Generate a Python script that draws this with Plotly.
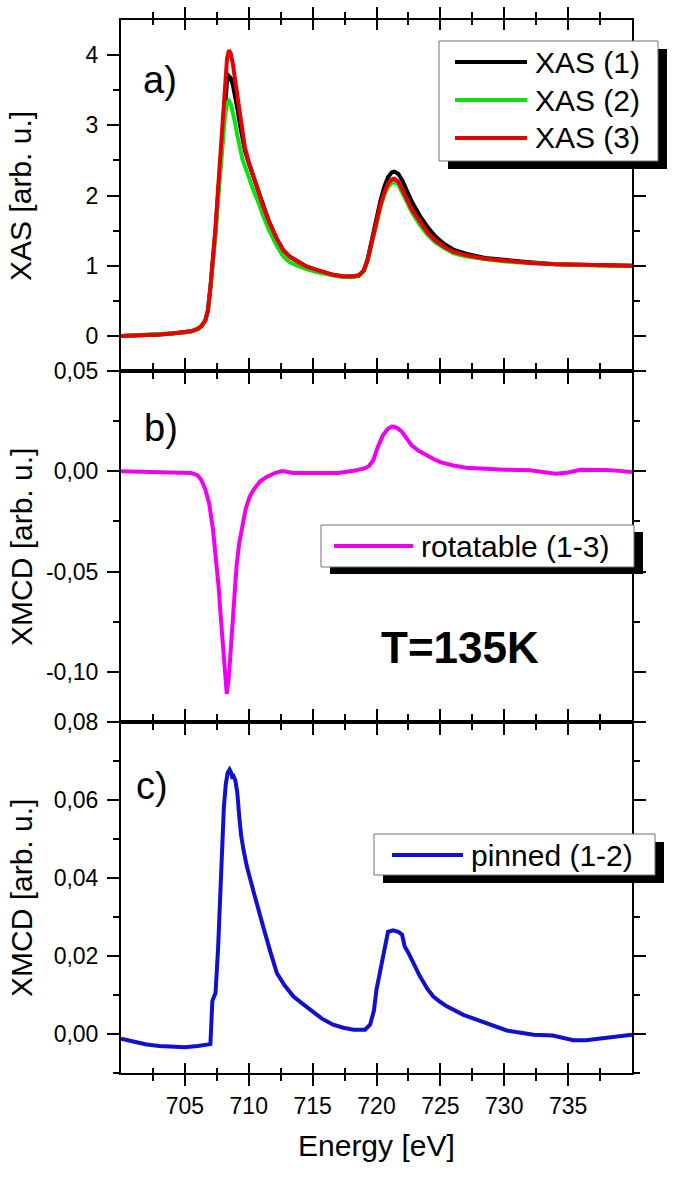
import plotly.graph_objects as go

# ---------------- data ----------------
energy_xas = [700, 701, 702, 703, 704, 705, 705.5, 706, 706.3, 706.6, 706.8, 707.0, 707.2, 707.4,
              707.6, 707.8, 708.0, 708.15, 708.3, 708.45, 708.6, 708.75, 708.9, 709.1, 709.3,
              709.5, 709.7, 710.0, 710.35, 710.8, 711.1, 711.6, 712.2, 712.7, 713.2, 713.8, 714.5,
              715.3, 716.0, 716.6, 717.3, 718.0, 718.6, 719.0, 719.3, 719.7, 720.0, 720.3, 720.6,
              720.9, 721.2, 721.4, 721.7, 722.0, 722.4, 722.8, 723.4, 724.0, 724.6, 725.3, 726.0,
              727.0, 728.5, 730, 732, 734, 736, 738, 740]
xas1 = [0.00, 0.005, 0.01, 0.02, 0.035, 0.05, 0.065, 0.10, 0.14, 0.22, 0.36,
        0.69, 1.05, 1.50, 2.02, 2.52, 3.00, 3.38, 3.62, 3.70, 3.67,
        3.58, 3.45, 3.25, 3.02, 2.82, 2.64, 2.46, 2.27, 2.04, 1.86,
        1.62, 1.38, 1.22, 1.13, 1.06, 0.99, 0.94, 0.90, 0.87, 0.85,
        0.845, 0.86, 0.93, 1.09, 1.43, 1.70, 1.92, 2.12, 2.26, 2.33,
        2.34, 2.31, 2.22, 2.06, 1.90, 1.71, 1.55, 1.42, 1.31, 1.23,
        1.17, 1.11, 1.08, 1.05, 1.02, 1.01, 1.00, 1.00]
xas2 = [0.00, 0.006, 0.012, 0.022, 0.036, 0.05, 0.065, 0.10, 0.14, 0.22, 0.36,
        0.68, 1.02, 1.45, 1.95, 2.42, 2.85, 3.15, 3.32, 3.35, 3.30,
        3.20, 3.06, 2.86, 2.66, 2.52, 2.42, 2.25, 2.08, 1.88, 1.72,
        1.50, 1.28, 1.13, 1.05, 1.00, 0.95, 0.91, 0.88, 0.86, 0.84,
        0.835, 0.85, 0.92, 1.06, 1.38, 1.62, 1.82, 2.00, 2.12, 2.18,
        2.19, 2.16, 2.06, 1.90, 1.75, 1.58, 1.44, 1.33, 1.25, 1.18,
        1.13, 1.09, 1.06, 1.04, 1.02, 1.01, 1.00, 1.00]
xas3 = [0.00, 0.005, 0.01, 0.02, 0.035, 0.05, 0.065, 0.10, 0.14, 0.22, 0.36,
        0.70, 1.08, 1.55, 2.10, 2.65, 3.20, 3.65, 3.95, 4.07, 4.02,
        3.88, 3.68, 3.40, 3.12, 2.88, 2.68, 2.48, 2.28, 2.05, 1.86,
        1.62, 1.38, 1.22, 1.13, 1.06, 0.99, 0.94, 0.90, 0.87, 0.85,
        0.845, 0.86, 0.93, 1.08, 1.40, 1.65, 1.86, 2.04, 2.17, 2.23,
        2.24, 2.20, 2.10, 1.94, 1.79, 1.62, 1.47, 1.36, 1.27, 1.20,
        1.15, 1.10, 1.07, 1.04, 1.02, 1.01, 1.00, 1.00]

energy_rot = [700, 702, 704, 705.5, 706.0, 706.3, 706.6, 706.9, 707.2, 707.45, 707.65, 707.8,
              707.95, 708.1, 708.28, 708.45, 708.6, 708.75, 708.9, 709.05, 709.25, 709.5, 709.75,
              710.05, 710.4, 710.9, 711.4, 712.0, 712.6, 713.5, 715, 717, 718.2, 719.0, 719.4,
              719.75, 720.1, 720.5, 720.9, 721.2, 721.4, 721.7, 722.0, 722.4, 722.75, 723.3, 723.9,
              724.5, 725.0, 726, 727, 728.5, 730, 732, 733, 734, 735, 736, 738, 740]
rotatable = [0.0, -0.0003, -0.0005, -0.0008, -0.002, -0.0045, -0.009, -0.016, -0.029, -0.044,
             -0.058, -0.072, -0.086, -0.100, -0.111, -0.102, -0.089, -0.074, -0.059, -0.047,
             -0.036, -0.026, -0.019, -0.013, -0.009, -0.005, -0.0028, -0.001, 0.0001, -0.0008,
             -0.0006, -0.0008, 0.0003, 0.0013, 0.0025, 0.0055, 0.012, 0.0179, 0.0212, 0.0223,
             0.0222, 0.0212, 0.0196, 0.0163, 0.0129, 0.0102, 0.008, 0.006, 0.0046, 0.0029,
             0.0018, 0.0011, 0.0008, 0.0005, -0.0003, -0.0012, -0.0006, 0.0008, 0.0007, -0.0003]

energy_pin = [700, 701, 702, 703, 704, 705, 706, 706.5, 707.0, 707.15, 707.4, 707.6, 707.75, 707.9,
              708.05, 708.2, 708.35, 708.5, 708.6, 708.7, 708.8, 708.95, 709.1, 709.25, 709.4,
              709.6, 709.85, 710.4, 710.8, 711.2, 711.7, 712.2, 712.8, 713.5, 714.2, 714.8, 715.7,
              716.6, 717.4, 718.2, 719.1, 719.5, 719.8, 720.0, 720.4, 720.7, 720.9, 721.3, 721.7,
              722.0, 722.2, 722.5, 723.0, 723.4, 724.0, 724.45, 725.0, 725.5, 726.8, 728.6, 730.2,
              731.3, 732.3, 733.8, 734.6, 735.4, 736.4, 737.2, 738.0, 739.0, 740]
pinned = [-0.0012, -0.0020, -0.0027, -0.0031, -0.0033, -0.0034, -0.0031, -0.0028, -0.0026, 0.0085,
          0.0105, 0.022, 0.034, 0.049, 0.058, 0.064, 0.067, 0.0678, 0.0672, 0.0660, 0.0662,
          0.0650, 0.0620, 0.0560, 0.0510, 0.0470, 0.0430, 0.0362, 0.031, 0.0267, 0.021, 0.0156,
          0.0125, 0.0096, 0.0078, 0.0062, 0.0040, 0.0024, 0.0016, 0.0011, 0.0011, 0.0024,
          0.0060, 0.0114, 0.0182, 0.0235, 0.0262, 0.0266, 0.0262, 0.0255, 0.0225, 0.0208,
          0.0175, 0.0148, 0.0115, 0.0096, 0.0082, 0.0071, 0.0049, 0.0028, 0.0009, 0.0003,
          -0.0002, -0.0004, -0.0010, -0.0016, -0.0016, -0.0013, -0.0010, -0.0006, -0.0002]

x_ticks = [705, 710, 715, 720, 725, 730, 735]
x_minor = [702.5, 707.5, 712.5, 717.5, 722.5, 727.5, 732.5, 737.5]
ya_ticks = [0, 1, 2, 3, 4]
ya_labels = ["0", "1", "2", "3", "4"]
ya_minor = [0.5, 1.5, 2.5, 3.5]
yb_ticks = [0.05, 0.0, -0.05, -0.10]
yb_labels = ["0,05", "0,00", "-0,05", "-0,10"]
yb_minor = [0.025, -0.025, -0.075]
yc_ticks = [0.0, 0.02, 0.04, 0.06, 0.08]
yc_labels = ["0,00", "0,02", "0,04", "0,06", "0,08"]
yc_minor = [-0.01, 0.01, 0.03, 0.05, 0.07]

assert len(energy_xas) == len(xas1) == len(xas2) == len(xas3)
assert len(energy_rot) == len(rotatable)
assert len(energy_pin) == len(pinned)

# ---------------- figure ----------------
W, H = 675, 1177
L, R, T, B = 121, 632, 20, 1073
FONT = "Liberation Sans, Arial, sans-serif"

def px(x):
    return (x - L) / (R - L)

def py(y):
    return (B - y) / (B - T)

C_BLACK, C_GREEN, C_RED, C_MAG, C_BLUE = "#000000", "#10E010", "#E80000", "#F000F0", "#1010D0"

fig = go.Figure()
lw = 4
fig.add_trace(go.Scatter(x=energy_xas, y=xas1, mode="lines", line=dict(color=C_BLACK, width=lw),
                         name="XAS (1)", xaxis="x", yaxis="y"))
fig.add_trace(go.Scatter(x=energy_xas, y=xas2, mode="lines", line=dict(color=C_GREEN, width=lw),
                         name="XAS (2)", xaxis="x", yaxis="y"))
fig.add_trace(go.Scatter(x=energy_xas, y=xas3, mode="lines", line=dict(color=C_RED, width=lw),
                         name="XAS (3)", xaxis="x", yaxis="y"))
fig.add_trace(go.Scatter(x=energy_rot, y=rotatable, mode="lines", line=dict(color=C_MAG, width=lw),
                         name="rotatable (1-3)", xaxis="x2", yaxis="y2"))
fig.add_trace(go.Scatter(x=energy_pin, y=pinned, mode="lines", line=dict(color=C_BLUE, width=lw),
                         name="pinned (1-2)", xaxis="x3", yaxis="y3"))
# empty traces to realise the inside-tick overlay axes
fig.add_trace(go.Scatter(x=[], y=[], xaxis="x4", yaxis="y", showlegend=False))
fig.add_trace(go.Scatter(x=[], y=[], xaxis="x5", yaxis="y3", showlegend=False))

tickfont = dict(family=FONT, size=23, color="black")

def xaxis(anchor, labels=False):
    return dict(range=[700, 740], domain=[0, 1], anchor=anchor, showline=True, linecolor="black",
                linewidth=2, mirror="ticks", ticks="outside", ticklen=11, tickwidth=2,
                tickcolor="black", tickmode="array", tickvals=x_ticks,
                ticktext=[str(v) for v in x_ticks], showticklabels=labels, tickfont=tickfont,
                showgrid=False, zeroline=False,
                minor=dict(tickmode="array", tickvals=x_minor, ticklen=6, tickwidth=2,
                           tickcolor="black", ticks="outside", showgrid=False))

def xoverlay(over, anchor):
    return dict(range=[700, 740], domain=[0, 1], overlaying=over, anchor=anchor, showline=False,
                mirror="ticks", ticks="inside", ticklen=10, tickwidth=2, tickcolor="black",
                tickmode="array", tickvals=x_ticks, showticklabels=False, showgrid=False,
                zeroline=False,
                minor=dict(tickmode="array", tickvals=x_minor, ticklen=5, tickwidth=2,
                           tickcolor="black", ticks="inside", showgrid=False))

def yaxis(rng, dom, tv, tt, mv, anchor):
    return dict(range=rng, domain=dom, anchor=anchor, showline=True, linecolor="black",
                linewidth=2, mirror="ticks", ticks="outside", ticklen=12, tickwidth=2,
                tickcolor="black", tickmode="array", tickvals=tv, ticktext=tt,
                tickfont=tickfont, showgrid=False, zeroline=False, ticklabelstandoff=4,
                minor=dict(tickmode="array", tickvals=mv, ticklen=6, tickwidth=2,
                           tickcolor="black", ticks="outside", showgrid=False))

fig.update_layout(
    width=W, height=H, margin=dict(l=L, r=W - R, t=T, b=H - B, autoexpand=False),
    paper_bgcolor="white", plot_bgcolor="white", showlegend=False,
    font=dict(family=FONT, color="black"),
    xaxis=xaxis("y"), xaxis2=xaxis("y2"), xaxis3=xaxis("y3", labels=True),
    xaxis4=xoverlay("x", "y"), xaxis5=xoverlay("x3", "y3"),
    yaxis=yaxis([-0.5, 4.5], [2 / 3, 1], ya_ticks, ya_labels, ya_minor, "x"),
    yaxis2=yaxis([-0.125, 0.05], [1 / 3, 2 / 3], yb_ticks, yb_labels, yb_minor, "x2"),
    yaxis3=yaxis([-0.01, 0.08], [0, 1 / 3], yc_ticks, yc_labels, yc_minor, "x3"),
)

shapes = []
annotations = []

def legend_box(x0, y0, x1, y1, dx, dy):
    shapes.append(dict(type="rect", xref="paper", yref="paper", x0=px(x0 + dx), x1=px(x1 + dx),
                       y0=py(y1 + dy), y1=py(y0 + dy), fillcolor="black", line=dict(width=0),
                       layer="above"))
    shapes.append(dict(type="rect", xref="paper", yref="paper", x0=px(x0), x1=px(x1),
                       y0=py(y1), y1=py(y0), fillcolor="white",
                       line=dict(color="#707070", width=1), layer="above"))

def legend_item(xa, xb, y, color, text):
    shapes.append(dict(type="line", xref="paper", yref="paper", x0=px(xa), x1=px(xb),
                       y0=py(y), y1=py(y), line=dict(color=color, width=4), layer="above"))
    annotations.append(dict(xref="paper", yref="paper", x=px(xb + 6), y=py(y), text=text,
                            showarrow=False, xanchor="left", yanchor="middle",
                            font=dict(family=FONT, size=30, color="black")))

# legend a
legend_box(439, 41, 658, 161, 9, 8)
legend_item(455, 527, 62, C_BLACK, "XAS (1)")
legend_item(455, 527, 100, C_GREEN, "XAS (2)")
legend_item(455, 527, 138, C_RED, "XAS (3)")
# legend b
legend_box(321, 525, 634, 567, 9, 7)
legend_item(334, 413, 546, C_MAG, "rotatable (1-3)")
# legend c
legend_box(374, 834, 655, 875, 9, 8)
legend_item(392, 463, 855, C_BLUE, "pinned (1-2)")

# panel labels
for txt, x, y in (("a)", 141, 80), ("b)", 142, 428), ("c)", 134, 786)):
    annotations.append(dict(xref="paper", yref="paper", x=px(x), y=py(y), text=txt,
                            showarrow=False, xanchor="left", yanchor="middle",
                            font=dict(family=FONT, size=38, color="black")))
annotations.append(dict(xref="paper", yref="paper", x=px(460), y=py(647), text="<b>T=135K</b>",
                        showarrow=False, xanchor="center", yanchor="middle",
                        font=dict(family=FONT, size=44, color="black")))
# axis titles
for txt, y in (("XAS [arb. u.]", 196), ("XMCD [arb. u.]", 547), ("XMCD [arb. u.]", 898)):
    annotations.append(dict(xref="paper", yref="paper", x=px(21), y=py(y), text=txt,
                            showarrow=False, textangle=-90, xanchor="center", yanchor="middle",
                            font=dict(family=FONT, size=30, color="black")))
annotations.append(dict(xref="paper", yref="paper", x=px(376), y=py(1145), text="Energy [eV]",
                        showarrow=False, xanchor="center", yanchor="middle",
                        font=dict(family=FONT, size=30, color="black")))

fig.update_layout(shapes=shapes, annotations=annotations)
fig.write_html("out.html", config={"displayModeBar": False, "staticPlot": True},
               post_script="document.body.style.margin='0';document.body.style.overflow='hidden';")
